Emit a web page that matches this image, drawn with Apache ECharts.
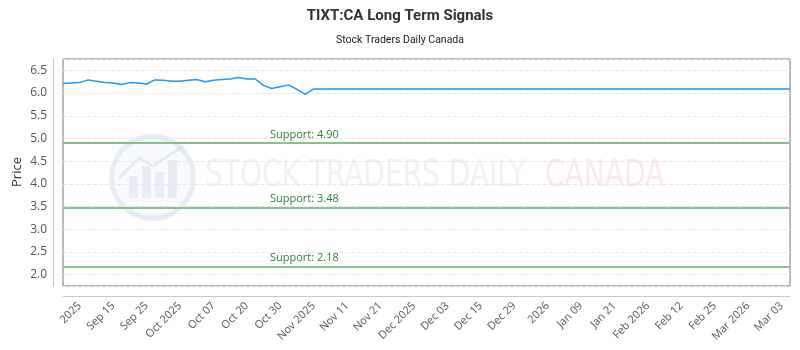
<!DOCTYPE html>
<html>
<head>
<meta charset="utf-8">
<script src="https://cdn.jsdelivr.net/npm/echarts@6/dist/echarts.min.js"></script>
<style>
  html, body { margin: 0; padding: 0; background: #fff; }
  #chart { width: 800px; height: 350px; }
</style>
</head>
<body>
<div id="chart"></div>
<script>
// x轴刻度文字（每4个点一个）
const tickLabels = ['2025', 'Sep 15', 'Sep 25', 'Oct 2025', 'Oct 07', 'Oct 20', 'Oct 30',
  'Nov 2025', 'Nov 11', 'Nov 21', 'Dec 2025', 'Dec 03', 'Dec 15', 'Dec 29', '2026',
  'Jan 09', 'Jan 21', 'Feb 2026', 'Feb 12', 'Feb 25', 'Mar 2026', 'Mar 03'];
const firstTick = 2;
const tickStep = 4;
const pointCount = 88;

// 历史价格
const historyPrices = [6.21, 6.22, 6.23, 6.29, 6.26, 6.23, 6.22, 6.19, 6.23, 6.22,
  6.20, 6.29, 6.28, 6.26, 6.26, 6.28, 6.30, 6.25, 6.28, 6.30,
  6.31, 6.34, 6.31, 6.31, 6.17, 6.10, 6.14, 6.18, 6.08, 5.97, 6.09];
// 之后的水平线
const flatPrice = 6.09;

// 支撑位
const supports = [4.90, 3.48, 2.18];

const categories = [];
for (let i = 0; i < pointCount; i++) categories.push(i);
const prices = historyPrices.slice();
while (prices.length < pointCount) prices.push(flatPrice);

const chart = echarts.init(document.getElementById('chart'));

const option = {
  animation: false,
  title: {
    text: 'TIXT:CA Long Term Signals',
    subtext: 'Stock Traders Daily Canada',
    left: 'center',
    top: 4,
    itemGap: 11,
    textStyle: { fontFamily: 'Roboto', fontSize: 15, fontWeight: 'bold', color: '#333' },
    subtextStyle: { fontFamily: 'Roboto', fontSize: 10.5, color: '#222' }
  },
  grid: {
    left: 63, right: 10, top: 59, bottom: 64,
    outerBoundsMode: 'none',
    containLabel: false,
    show: true, borderColor: '#777', borderWidth: 1
  },
  graphic: [
    {
      type: 'circle', left: 109, top: 134, silent: true,
      shape: { r: 41 },
      style: { fill: 'rgba(235,240,248,0.3)', stroke: 'rgba(205,215,232,0.45)', lineWidth: 5 }
    },
    { type: 'rect', left: 129, top: 176, silent: true, shape: { width: 9, height: 22 }, style: { fill: 'rgba(208,218,232,0.4)' } },
    { type: 'rect', left: 142, top: 166, silent: true, shape: { width: 9, height: 32 }, style: { fill: 'rgba(208,218,232,0.4)' } },
    { type: 'rect', left: 155, top: 172, silent: true, shape: { width: 9, height: 26 }, style: { fill: 'rgba(208,218,232,0.4)' } },
    { type: 'rect', left: 168, top: 160, silent: true, shape: { width: 9, height: 38 }, style: { fill: 'rgba(208,218,232,0.4)' } },
    {
      type: 'polyline', silent: true,
      shape: { points: [[119, 178], [139, 158], [153, 166], [183, 146]] },
      style: { stroke: 'rgba(208,218,232,0.5)', lineWidth: 3, fill: null }
    },
    {
      type: 'text', x: 205, y: 157, scaleX: 0.82, silent: true,
      style: { text: 'STOCK TRADERS DAILY', fontFamily: 'DejaVu Sans Condensed', fontSize: 38,
        fill: 'rgba(190,198,212,0.25)' }
    },
    {
      type: 'text', x: 545, y: 157, scaleX: 0.82, silent: true,
      style: { text: 'CANADA', fontFamily: 'DejaVu Sans Condensed', fontSize: 38,
        fill: 'rgba(240,110,110,0.15)' }
    },
    // y轴名称
    {
      type: 'text', x: 17, y: 172, rotation: Math.PI / 2, silent: true,
      style: { text: 'Price', fontFamily: 'Open Sans', fontSize: 13, fill: '#333',
        align: 'center', verticalAlign: 'middle' }
    }
  ],
  xAxis: {
    type: 'category',
    data: categories,
    boundaryGap: false,
    offset: 10,
    axisLine: { lineStyle: { color: '#c8c8c8' } },
    axisTick: { show: false },
    splitLine: { show: false },
    axisLabel: {
      rotate: 45,
      margin: 8,
      color: '#555',
      fontFamily: 'Open Sans',
      fontSize: 11,
      interval: function (index) {
        return index >= firstTick && (index - firstTick) % tickStep === 0;
      },
      formatter: function (value, index) {
        return tickLabels[(index - firstTick) / tickStep];
      }
    }
  },
  yAxis: {
    type: 'value',
    min: 1.75,
    max: 6.75,
    minInterval: 0.5,
    maxInterval: 0.5,
    splitNumber: 10,
    offset: 10,
    axisLine: { show: true, lineStyle: { color: '#c8c8c8' } },
    axisTick: { show: false },
    axisLabel: {
      color: '#555', fontFamily: 'Open Sans', fontSize: 12, margin: 6,
      showMinLabel: false, showMaxLabel: false,
      formatter: function (v) { return v.toFixed(1); }
    },
    splitLine: { lineStyle: { color: '#e6e6e6', type: 'dashed' } }
  },
  series: [
    {
      type: 'line',
      data: prices,
      showSymbol: false,
      lineStyle: { color: '#2196f3', width: 1.5 },
      itemStyle: { color: '#2196f3' },
      z: 3,
      markLine: {
        silent: true,
        symbol: 'none',
        lineStyle: { color: '#88c288', width: 2, type: 'solid' },
        label: {
          position: 'insideStartTop',
          distance: [207, 3],
          color: '#2e7d32',
          fontFamily: 'Open Sans',
          fontSize: 11,
          formatter: function (p) { return 'Support: ' + p.value.toFixed(2); }
        },
        data: supports.map(function (s) { return { yAxis: s }; })
      }
    }
  ]
};

chart.setOption(option);
window.addEventListener('resize', () => {
  chart.resize();
});
</script>
</body>
</html>
